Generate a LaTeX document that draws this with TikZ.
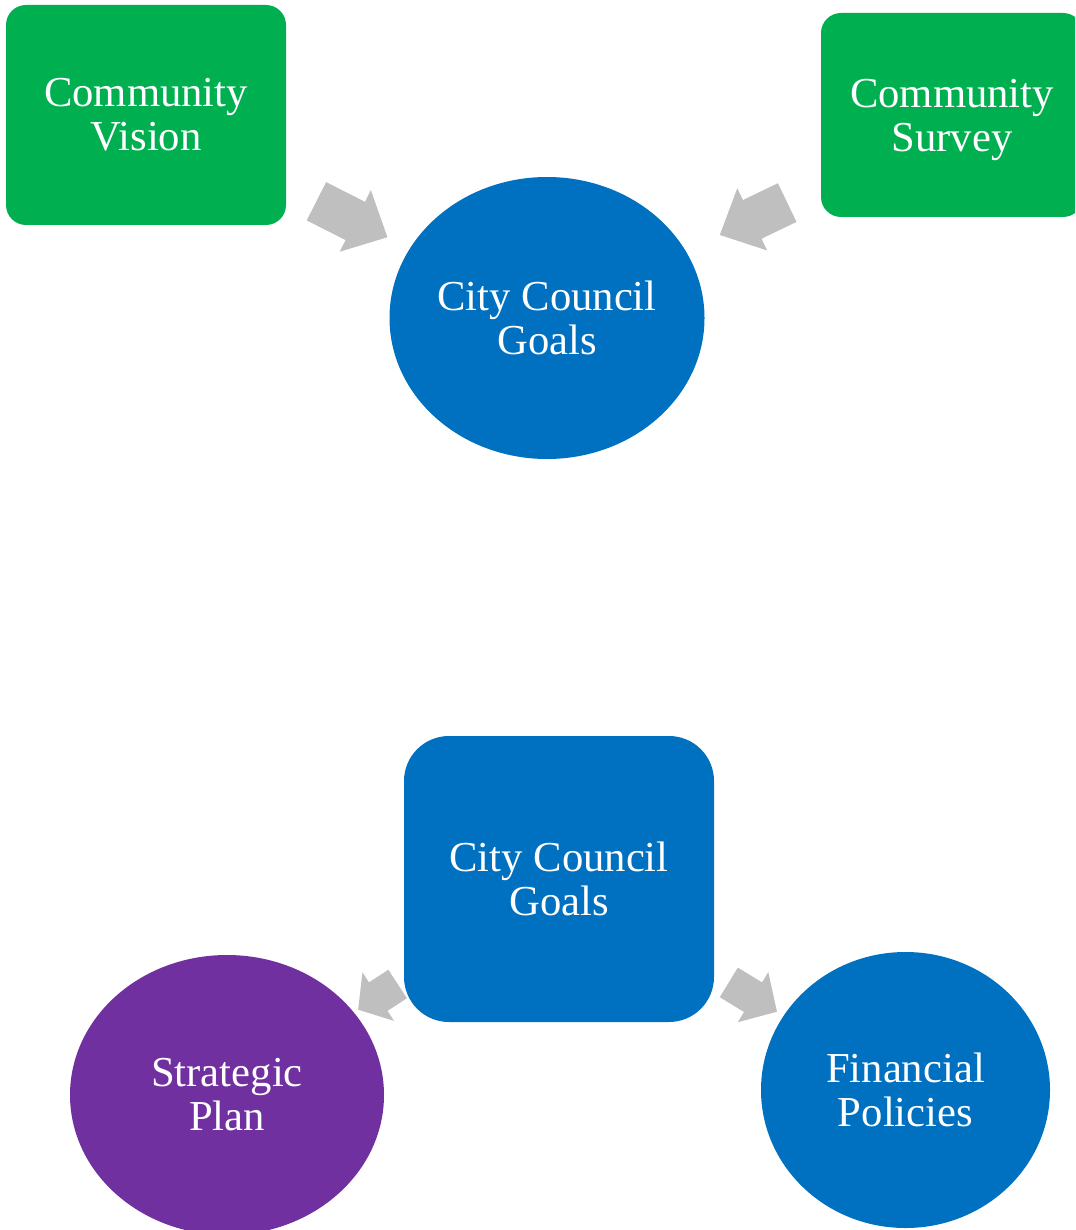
\documentclass[tikz,border=0pt]{standalone}
\usepackage{fontspec}
\setmainfont{Liberation Serif}
\usetikzlibrary{shapes.geometric,calc}
\definecolor{cgreen}{HTML}{00B050}
\definecolor{cblue}{HTML}{0070C0}
\definecolor{cpurple}{HTML}{7030A0}
\definecolor{arrowgray}{HTML}{BFBFBF}
\newcommand\blockarrow[7]{%
  \path ($(#1)!#3!(#2)$) coordinate (s) ($(#1)!#4!(#2)$) coordinate (t) ($(t)!#7!(s)$) coordinate (h);
  \fill[arrowgray] ($(s)!#5!90:(t)$) -- ($(h)!#5!-90:(s)$) -- ($(h)!#6!-90:(s)$) -- (t)
    -- ($(h)!#6!90:(s)$) -- ($(h)!#5!90:(s)$) -- ($(s)!#5!-90:(t)$) -- cycle;}
\begin{document}
\begin{tikzpicture}[x=0.75pt,y=-0.75pt,
  lbl/.style={text=white, align=center, font=\fontsize{32}{33}\selectfont, inner sep=0pt},
  greenbox/.style={lbl, fill=cgreen, rounded corners=15pt},
  oval/.style={lbl, ellipse},
  bluesq/.style={lbl, fill=cblue, rounded corners=33.75pt}]
\useasboundingbox (0,0) rectangle (1075,1230);
\clip (0,0) rectangle (1075,1230);
\node[greenbox, minimum width=210pt, minimum height=165pt] (vision) at (146,115) {Community\\Vision};
\node[greenbox, minimum width=196.5pt, minimum height=153pt, text depth=0pt] (survey) at (952,115) {Community\\Survey};
\node[oval, fill=cblue, minimum width=236.25pt, minimum height=211.5pt] (goals) at (547,318) {City Council\\Goals};
\node[bluesq, minimum width=232.5pt, minimum height=214.5pt] (council) at (559,879) {City Council\\Goals};
\node[oval, fill=cpurple, minimum width=235.5pt, minimum height=210pt] (strategic) at (227,1095) {Strategic\\Plan};
\node[oval, fill=cblue, minimum width=216.75pt, minimum height=207pt] (financial) at (905.5,1090) {Financial\\Policies};
\coordinate (sv) at ($(survey.center)+(3.5,6.7)$);
\blockarrow{vision}{goals}{0.425}{0.602}{16.1pt}{25.9pt}{27pt}
\blockarrow{sv}{goals}{0.412}{0.577}{16.1pt}{25.9pt}{27pt}
\blockarrow{council}{strategic}{0.486}{0.605}{12.75pt}{21.75pt}{18pt}
\blockarrow{council}{financial}{0.49}{0.629}{13pt}{22pt}{21pt}
\end{tikzpicture}
\end{document}
